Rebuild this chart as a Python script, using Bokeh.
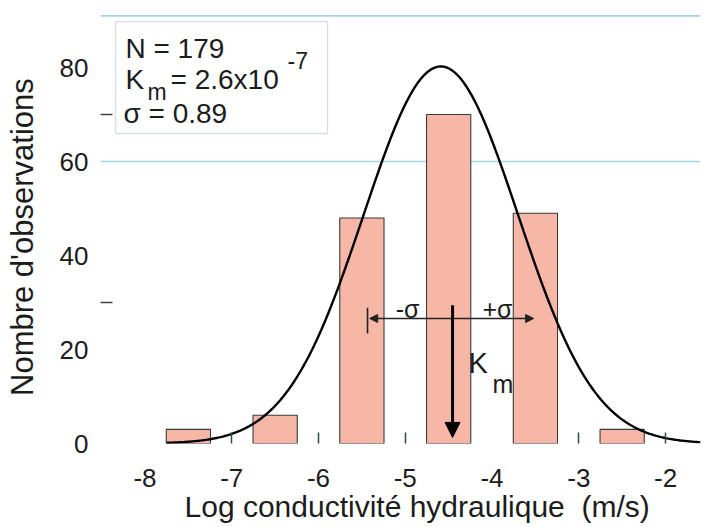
import numpy as np
from bokeh.plotting import figure
from bokeh.models import (FixedTicker, Range1d, BoxAnnotation, Span, Arrow,
                          NormalHead, ColumnDataSource)
from bokeh.core.properties import value
from bokeh.embed import file_html
from bokeh.resources import INLINE

# ---------------- data ----------------
bin_centers = [-7.5, -6.5, -5.5, -4.5, -3.5, -2.5]
counts = [3, 6, 48, 70, 49, 3]
x_tick_values = [-8, -7, -6, -5, -4, -3, -2]
y_tick_values = [0, 20, 40, 60, 80]
N_OBS = 179
SIGMA = 0.89
MEAN_LOG = -4.59          # centre of the fitted curve
KM_TEXT = "2.6x10"
KM_EXP = "-7"
x_title = "Log conductivité hydraulique\u00a0 (m/s)"
y_title = "Nombre d'observations"

FONT = "Liberation Sans"
TXT = "#1c1c1c"
NB = "\u00a0"

X0, X1 = -8.513, -1.597
Y0, Y1 = 0, 91.5

p = figure(width=705, height=527, output_backend="svg", toolbar_location=None,
           x_range=Range1d(X0, X1), y_range=Range1d(Y0, Y1),
           min_border_left=100, min_border_right=5, min_border_top=13,
           min_border_bottom=84)
p.outline_line_color = None
p.background_fill_color = "white"
p.border_fill_color = "white"

# grid: only the 60 line is visible in the reference
p.xgrid.visible = False
p.ygrid.ticker = FixedTicker(ticks=[60])
p.ygrid.grid_line_color = "#a6d6e0"
p.ygrid.grid_line_width = 1.3
p.add_layout(Span(location=91.0, dimension="width", line_color="#a6d6e0",
                  line_width=1.6))

# bars
src = ColumnDataSource(dict(x=bin_centers, top=counts))
p.vbar(x="x", top="top", bottom=0, width=0.51, source=src,
       fill_color="#f6b7a7", line_color="#3a3a3a", line_width=1.1)

# fitted normal curve (bin width = 1 log unit)
xc = np.linspace(-7.75, X1, 400)
yc = N_OBS / (SIGMA * np.sqrt(2 * np.pi)) * np.exp(-0.5 * ((xc - MEAN_LOG) / SIGMA) ** 2)
p.line(xc, yc, line_color="black", line_width=2.4)

# axes
xa = p.xaxis[0]
xa.ticker = FixedTicker(ticks=x_tick_values, minor_ticks=[-7, -6, -5, -3, -2])
xa.major_label_overrides = {v: str(v) for v in x_tick_values}
xa.axis_line_color = None
xa.major_tick_line_color = None
xa.major_tick_in = 0
xa.major_tick_out = 0
xa.minor_tick_line_color = "#2f4a50"
xa.minor_tick_line_width = 1.5
xa.minor_tick_in = 11
xa.minor_tick_out = 0
xa.major_label_standoff = 25
xa.major_label_text_font = FONT
xa.major_label_text_font_size = "26px"
xa.major_label_text_color = TXT
xa.axis_label = NB * 4 + x_title
xa.axis_label_text_font = FONT
xa.axis_label_text_font_size = "30px"
xa.axis_label_text_font_style = "normal"
xa.axis_label_text_color = TXT
xa.axis_label_standoff = 0

ya = p.yaxis[0]
ya.ticker = FixedTicker(ticks=y_tick_values, minor_ticks=[30, 70])
ya.axis_line_color = None
ya.major_tick_line_color = None
ya.major_tick_in = 0
ya.major_tick_out = 0
ya.minor_tick_line_color = "#444444"
ya.minor_tick_line_width = 1.5
ya.minor_tick_in = 12
ya.minor_tick_out = 0
ya.major_label_standoff = 12
ya.major_label_text_font = FONT
ya.major_label_text_font_size = "26px"
ya.major_label_text_color = TXT
ya.axis_label = y_title + NB * 2
ya.axis_label_text_font = FONT
ya.axis_label_text_font_size = "31px"
ya.axis_label_text_font_style = "normal"
ya.axis_label_text_color = TXT
ya.axis_label_standoff = 17

# statistics box
p.add_layout(BoxAnnotation(left=-8.340, right=-5.896, top=89.79, bottom=65.96,
                           fill_alpha=0, line_color="#7f8f9c", line_width=1.3))

def txt(x, y, s, size, align="left", baseline="middle"):
    p.text(x=[x], y=[y], text=[s], text_font=value(FONT),
           text_font_size=value(size), text_color=TXT,
           text_align=align, text_baseline=baseline)

txt(-8.225, 84.0, "N = %d" % N_OBS, "28px")
txt(-8.225, 77.4, "K", "28px")
txt(-7.971, 74.8, "m", "23px")
txt(-7.706, 77.4, "= " + KM_TEXT, "28px")
txt(-6.357, 81.5, KM_EXP, "23px")
txt(-8.248, 70.2, "σ = %.2f" % SIGMA, "28px")

# sigma arrows
p.add_layout(Arrow(x_start=-4.455, y_start=26.6, x_end=-5.41, y_end=26.6,
                   line_width=1.6, line_color="#222222",
                   end=NormalHead(size=8, fill_color="#222222", line_color="#222222")))
p.add_layout(Arrow(x_start=-4.455, y_start=26.6, x_end=-3.52, y_end=26.6,
                   line_width=1.6, line_color="#222222",
                   end=NormalHead(size=8, fill_color="#222222", line_color="#222222")))
p.segment(x0=[-5.435], y0=[23.4], x1=[-5.435], y1=[28.9], line_color="#222222",
          line_width=1.6)
# Km arrow
p.add_layout(Arrow(x_start=-4.455, y_start=29.4, x_end=-4.455, y_end=1.3,
                   line_width=3, line_color="black",
                   end=NormalHead(size=15, fill_color="black", line_color="black")))

txt(-4.974, 28.7, "-σ", "25px", align="center")
txt(-3.937, 28.7, "+σ", "25px", align="center")
txt(-4.271, 17.2, "K", "29px")
txt(-3.994, 12.6, "m", "25px")

open("out.html", "w").write(file_html(p, INLINE))
